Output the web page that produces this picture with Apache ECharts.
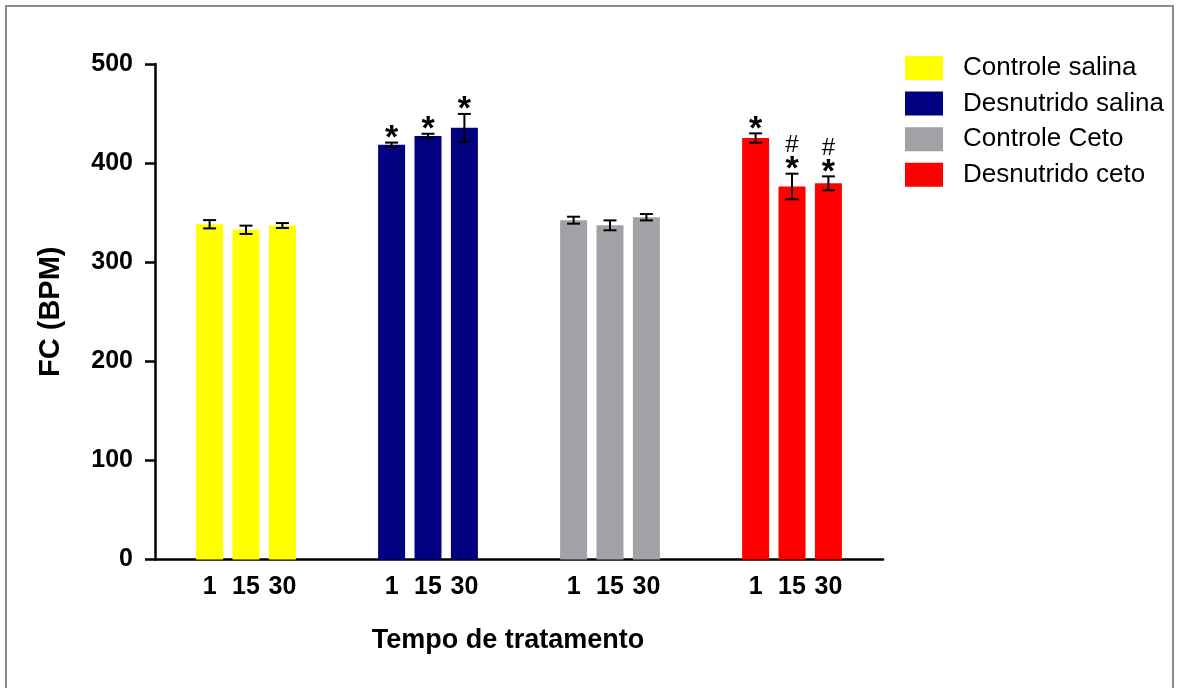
<!DOCTYPE html>
<html>
<head>
<meta charset="utf-8">
<script src="https://cdn.jsdelivr.net/npm/echarts@6/dist/echarts.min.js"></script>
<style>
html,body{margin:0;padding:0;background:#fff;}
#chart{width:1178px;height:688px;}
</style>
</head>
<body>
<div id="chart"></div>
<script>
// ---- data ----
const groupNames = ['Controle salina', 'Desnutrido salina', 'Controle Ceto', 'Desnutrido ceto'];
const timeLabels = ['1', '15', '30'];
const groupColors = ['#FFFF00', '#000080', '#A2A2A6', '#FF0000'];

const controleSalina   = [338.3, 332.7, 337.0];
const desnutridoSalina = [418.5, 427.3, 435.6];
const controleCeto     = [342.4, 337.2, 345.4];
const desnutridoCeto   = [425.3, 376.4, 379.6];

const controleSalinaSem   = [4.2, 4.2, 2.5];
const desnutridoSalinaSem = [2.2, 2.3, 14.0];
const controleCetoSem     = [3.5, 5.0, 3.2];
const desnutridoCetoSem   = [4.7, 12.9, 7.0];

const controleSalinaMarks   = ['', '', ''];
const desnutridoSalinaMarks = ['*', '*', '*'];
const controleCetoMarks     = ['', '', ''];
const desnutridoCetoMarks   = ['*', '#*', '#*'];

const yTicks = [0, 100, 200, 300, 400, 500];

// ---- build category slots (blank slots separate groups) ----
const means = [controleSalina, desnutridoSalina, controleCeto, desnutridoCeto];
const sems = [controleSalinaSem, desnutridoSalinaSem, controleCetoSem, desnutridoCetoSem];
const marks = [controleSalinaMarks, desnutridoSalinaMarks, controleCetoMarks, desnutridoCetoMarks];

const categories = [''];
const slotOf = [];
groupNames.forEach((g, gi) => {
  if (gi > 0) { categories.push(''); categories.push(''); }
  slotOf.push([]);
  timeLabels.forEach(t => { slotOf[gi].push(categories.length); categories.push(t); });
});
categories.push('');

const sans = "'Liberation Sans', Arial, sans-serif";

const series = [];
groupNames.forEach((g, gi) => {
  const d = categories.map(() => '-');
  slotOf[gi].forEach((s, k) => { d[s] = means[gi][k]; });
  series.push({
    name: g, type: 'bar', data: d, barWidth: 27, barGap: '-100%',
    itemStyle: { color: groupColors[gi] }, silent: true
  });
});

const errData = [];
const errMarks = [];
groupNames.forEach((g, gi) => {
  slotOf[gi].forEach((s, k) => {
    errData.push([s, means[gi][k], sems[gi][k]]);
    errMarks.push(marks[gi][k]);
  });
});

series.push({
  type: 'custom', silent: true, z: 10,
  data: errData,
  renderItem: function (params, api) {
    const x = api.value(0), m = api.value(1), e = api.value(2);
    const top = api.coord([x, m + e]);
    const bot = api.coord([x, m - e]);
    const hw = 6.5;
    const st = { stroke: '#000', lineWidth: 2 };
    const children = [
      { type: 'line', shape: { x1: top[0], y1: top[1], x2: bot[0], y2: bot[1] }, style: st },
      { type: 'line', shape: { x1: top[0] - hw, y1: top[1], x2: top[0] + hw, y2: top[1] }, style: st },
      { type: 'line', shape: { x1: bot[0] - hw, y1: bot[1], x2: bot[0] + hw, y2: bot[1] }, style: st }
    ];
    const mk = errMarks[params.dataIndex];
    if (mk) {
      const chars = mk.split('');
      let cy = top[1] - 12; // desired glyph centre
      for (let i = chars.length - 1; i >= 0; i--) {
        const c = chars[i];
        if (c === '*') {
          children.push({ type: 'text', style: { text: '*', x: top[0], y: cy + 8, align: 'center', verticalAlign: 'middle',
            font: 'bold 34px ' + sans, fill: '#000' } });
          cy -= 17;
        } else {
          children.push({ type: 'text', style: { text: c, x: top[0], y: cy + 1, align: 'center', verticalAlign: 'middle',
            font: '24px ' + sans, fill: '#000' } });
          cy -= 18;
        }
      }
    }
    return { type: 'group', children: children };
  }
});

const chart = echarts.init(document.getElementById('chart'), null, { renderer: 'canvas' });
chart.setOption({
  animation: false,
  backgroundColor: '#fff',
  graphic: [{
    type: 'rect', shape: { x: 6, y: 6, width: 1167, height: 700 },
    style: { fill: 'none', stroke: '#8c8c8c', lineWidth: 2 }, silent: true
  }],
  legend: {
    orient: 'vertical', left: 905, top: 55, padding: 0,
    itemWidth: 38, itemHeight: 24, itemGap: 9.6,
    icon: 'rect',
    data: groupNames,
    textStyle: { fontSize: 26, fontFamily: sans, color: '#000', padding: [0, 0, 0, 15] },
    selectedMode: false
  },
  grid: { left: 155, top: 64, width: 728, height: 495.5, containLabel: false },
  xAxis: {
    type: 'category', data: categories,
    name: 'Tempo de tratamento', nameLocation: 'middle', nameGap: 68,
    nameTextStyle: { fontSize: 27, fontWeight: 'bold', fontFamily: sans, color: '#000', padding: [0, 22, 0, 0] },
    axisLine: { lineStyle: { color: '#000', width: 2.5 } },
    axisTick: { alignWithLabel: true, length: 12, lineStyle: { color: '#000', width: 2.5 },
      interval: function (i, v) { return v !== ''; } },
    axisLabel: { interval: function (i, v) { return v !== ''; }, fontSize: 25, fontWeight: 'bold',
      fontFamily: sans, color: '#000', margin: 15 },
    splitLine: { show: false }
  },
  yAxis: {
    type: 'value', min: yTicks[0], max: yTicks[yTicks.length - 1], interval: 100,
    name: 'FC (BPM)', nameLocation: 'middle', nameGap: 90, nameRotate: 90,
    nameTextStyle: { fontSize: 29, fontWeight: 'bold', fontFamily: sans, color: '#000' },
    axisLine: { show: true, lineStyle: { color: '#000', width: 2.5 } },
    axisTick: { show: true, length: 10, lineStyle: { color: '#000', width: 2.5 } },
    axisLabel: { fontSize: 25, fontWeight: 'bold', fontFamily: sans, color: '#000', margin: 22 },
    splitLine: { show: false }
  },
  series: series
});
</script>
</body>
</html>
